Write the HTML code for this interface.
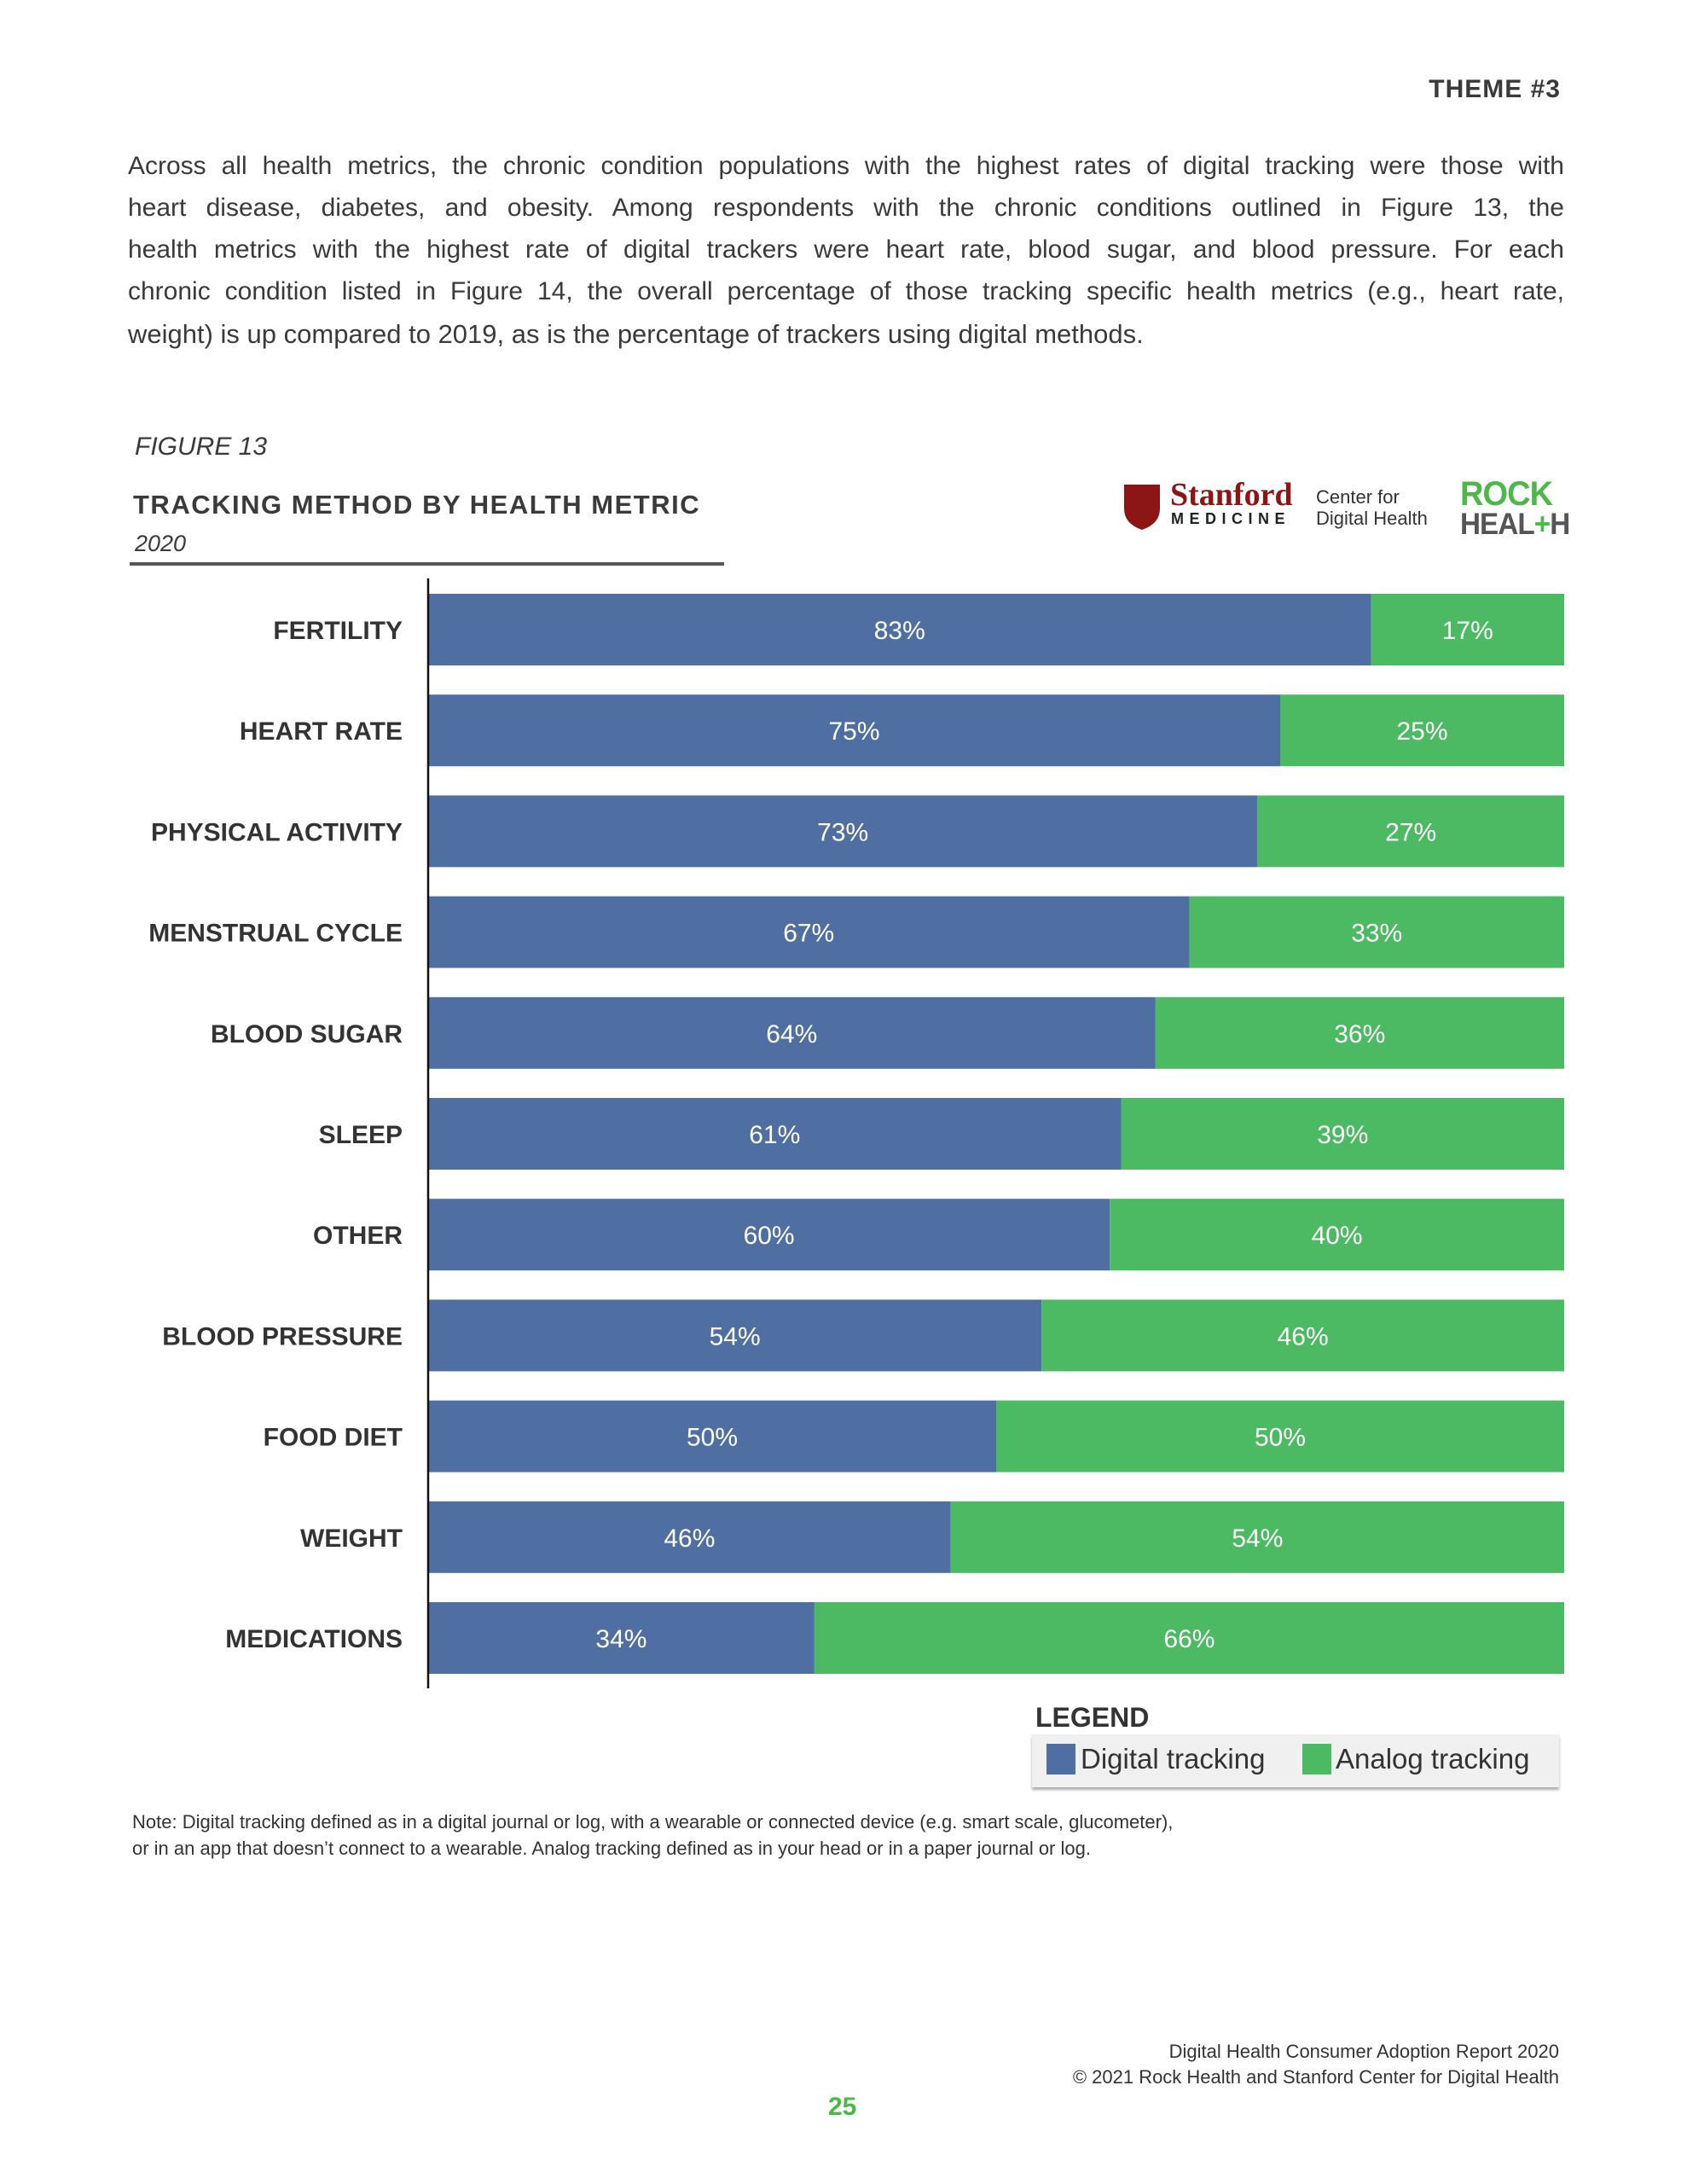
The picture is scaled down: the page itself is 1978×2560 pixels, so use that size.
<!DOCTYPE html>
<html><head><meta charset="utf-8">
<style>
body{margin:0;background:#fff;}
#page{position:relative;width:1978px;height:2560px;background:#fff;font-family:"Liberation Sans",sans-serif;color:#333;overflow:hidden;}
.abs{position:absolute;}
.pl{position:absolute;left:150px;width:1684px;font-size:30px;color:#3a3a3a;text-align:justify;text-align-last:justify;white-space:nowrap;}
.pl.last{text-align-last:left;}
</style></head><body>
<div id="page">
<div class="abs" style="right:148px;top:88px;font-size:30px;font-weight:bold;letter-spacing:1px;color:#3a3a3a;">THEME #3</div>
<div>
<div class="pl" style="top:178px">Across all health metrics, the chronic condition populations with the highest rates of digital tracking were those with</div>
<div class="pl" style="top:227px">heart disease, diabetes, and obesity. Among respondents with the chronic conditions outlined in Figure 13, the</div>
<div class="pl" style="top:276px">health metrics with the highest rate of digital trackers were heart rate, blood sugar, and blood pressure. For each</div>
<div class="pl" style="top:325px">chronic condition listed in Figure 14, the overall percentage of those tracking specific health metrics (e.g., heart rate,</div>
<div class="pl last" style="top:374px;font-size:31px">weight) is up compared to 2019, as is the percentage of trackers using digital methods.</div>
</div>
<div class="abs" style="left:158px;top:507px;font-size:30px;font-style:italic;color:#3a3a3a;">FIGURE 13</div>
<div class="abs" style="left:156px;top:574px;font-size:31px;font-weight:bold;letter-spacing:1.5px;color:#3a3a3a;">TRACKING METHOD BY HEALTH METRIC</div>
<div class="abs" style="left:158px;top:622px;font-size:27px;font-style:italic;color:#3a3a3a;">2020</div>
<div class="abs" style="left:152px;top:659px;width:697px;height:4px;background:#555;"></div>
<div>
<svg class="abs" style="left:1316px;top:566px" width="46" height="56"><path d="M2 2 H44 V30 Q44 48 23 55 Q2 48 2 30 Z" fill="#8c1515"/></svg>
<div class="abs" style="left:1372px;top:558px;font-family:'Liberation Serif',serif;font-weight:bold;font-size:38px;color:#8c1515;">Stanford</div>
<div class="abs" style="left:1373px;top:598px;font-size:18px;font-weight:bold;letter-spacing:6.5px;color:#222;">MEDICINE</div>
<div class="abs" style="left:1543px;top:570px;font-size:22px;line-height:25px;color:#333;">Center for<br>Digital Health</div>
<div class="abs" style="left:1712px;top:562px;font-size:40px;line-height:34px;font-weight:bold;letter-spacing:-1px;transform:scaleX(0.95);transform-origin:left;"><span style="color:#4cb848">ROCK</span><br><span style="color:#555;font-size:35px">HEAL<span style="color:#4cb848">+</span>H</span></div>
</div>
<svg class="abs" id="chart" style="left:0;top:0" width="1978" height="2560"></svg>
<div class="abs" style="left:1214px;top:1995px;font-size:32px;font-weight:bold;color:#333;">LEGEND</div>
<div class="abs" style="left:1210px;top:2033px;width:618px;height:62px;background:#f0f0f0;box-shadow:0 3px 3px #aaa;">
<div class="abs" style="left:17px;top:11px;width:34px;height:36px;background:#4f6fa3"></div>
<div class="abs" style="left:57px;top:10px;font-size:33px;color:#333;">Digital tracking</div>
<div class="abs" style="left:317px;top:11px;width:34px;height:36px;background:#4cb963"></div>
<div class="abs" style="left:356px;top:10px;font-size:33px;color:#333;">Analog tracking</div>
</div>
<div class="abs" style="left:155px;top:2120px;font-size:22px;line-height:31px;color:#333;">Note: Digital tracking defined as in a digital journal or log, with a wearable or connected device (e.g. smart scale, glucometer),<br>or in an app that doesn’t connect to a wearable. Analog tracking defined as in your head or in a paper journal or log.</div>
<div class="abs" style="right:150px;top:2390px;font-size:22px;line-height:30px;text-align:right;color:#333;">Digital Health Consumer Adoption Report 2020<br>© 2021 Rock Health and Stanford Center for Digital Health</div>
<div class="abs" style="left:971px;top:2453px;font-size:30px;font-weight:bold;color:#4cb848;">25</div>
</div>
<script>
const categories=["FERTILITY","HEART RATE","PHYSICAL ACTIVITY","MENSTRUAL CYCLE","BLOOD SUGAR","SLEEP","OTHER","BLOOD PRESSURE","FOOD DIET","WEIGHT","MEDICATIONS"];
const digital=[83,75,73,67,64,61,60,54,50,46,34];
const analog=[17,25,27,33,36,39,40,46,50,54,66];
const svg=document.getElementById('chart');
const NS='http://www.w3.org/2000/svg';
const x0=502,x1=1834,y0=696,pitch=118.2,bh=84;
const total=100;
function xs(v){return x0+(x1-x0)*v/total;}
function yb(i){return y0+i*pitch;}
function mk(tag,attrs){const e=document.createElementNS(NS,tag);for(const k in attrs)e.setAttribute(k,attrs[k]);svg.appendChild(e);return e;}
categories.forEach((c,i)=>{
  const y=yb(i);
  const d=mk('rect',{x:xs(0),y:y,width:xs(digital[i])-xs(0),height:bh,fill:'#4f6fa3'});
  
  
  const a=mk('rect',{x:xs(digital[i]),y:y,width:xs(digital[i]+analog[i])-xs(digital[i]),height:bh,fill:'#4cb963'});
  
  
  const t1=mk('text',{x:(xs(0)+xs(digital[i]))/2,y:y+bh/2+11,'text-anchor':'middle','font-size':30,fill:'#fff','font-family':'Liberation Sans, sans-serif'});
  t1.textContent=digital[i]+'%';
  
  
  const t2=mk('text',{x:(xs(digital[i])+xs(digital[i]+analog[i]))/2,y:y+bh/2+11,'text-anchor':'middle','font-size':30,fill:'#fff','font-family':'Liberation Sans, sans-serif'});
  t2.textContent=analog[i]+'%';
  
  
  const l=mk('text',{x:472,y:y+bh/2+11,'text-anchor':'end','font-size':30,'font-weight':'bold',fill:'#333','font-family':'Liberation Sans, sans-serif'});
  l.textContent=c;
  
  
});
const ax=mk('line',{x1:x0,x2:x0,y1:678,y2:1979,stroke:'#111','stroke-width':2.5});


</script>
</body></html>
